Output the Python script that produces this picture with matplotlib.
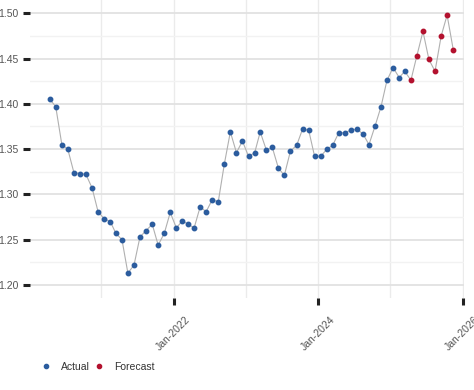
import matplotlib
matplotlib.use("Agg")
import matplotlib.pyplot as plt
import matplotlib.dates as mdates
from matplotlib.ticker import MultipleLocator
import pandas as pd

# Monthly values (mid-month points)
actual_start = "2020-04-01"
actual = [1.405, 1.397, 1.355, 1.350, 1.324, 1.323, 1.322, 1.307, 1.281, 1.273,
          1.270, 1.257, 1.250, 1.213, 1.222, 1.253, 1.260, 1.267, 1.244, 1.257,
          1.280, 1.263, 1.271, 1.267, 1.263, 1.286, 1.281, 1.294, 1.292, 1.334,
          1.369, 1.346, 1.359, 1.342, 1.346, 1.369, 1.349, 1.352, 1.329, 1.321,
          1.348, 1.354, 1.372, 1.371, 1.342, 1.342, 1.350, 1.354, 1.368, 1.368,
          1.371, 1.372, 1.367, 1.355, 1.375, 1.397, 1.426, 1.440, 1.429, 1.436]
forecast = [1.426, 1.453, 1.480, 1.449, 1.436, 1.475, 1.498, 1.460]

n_total = len(actual) + len(forecast)
dates = pd.date_range(actual_start, periods=n_total, freq="MS") + pd.Timedelta(days=14)
dates_actual = dates[:len(actual)]
dates_forecast = dates[len(actual):]

blue = "#2b5c9e"
red = "#b3112e"
label_gray = "#555555"

plt.rcParams["font.family"] = ["Liberation Sans", "DejaVu Sans"]

fig = plt.figure(figsize=(4.74, 3.9), dpi=100)
ax = fig.add_axes([0.0633, 0.236, 0.915, 0.764])

# connecting line through all points
ax.plot(list(dates), actual + forecast, color="#b0b0b0", lw=0.8, zorder=2)
ax.plot(dates_actual, actual, ls="none", marker="o", ms=3.2, color=blue,
        zorder=3, label="Actual")
ax.plot(dates_forecast, forecast, ls="none", marker="o", ms=3.2, color=red,
        zorder=3, label="Forecast")

ax.set_xlim(pd.Timestamp("2020-01-06"), pd.Timestamp("2026-01-07"))
ax.set_ylim(1.1856, 1.5147)

ax.yaxis.set_major_locator(MultipleLocator(0.05))
ax.yaxis.set_minor_locator(MultipleLocator(0.025))
ax.yaxis.set_major_formatter(matplotlib.ticker.FormatStrFormatter("%.2f"))
ax.xaxis.set_major_locator(mdates.YearLocator(2, month=1, day=1))
ax.xaxis.set_minor_locator(mdates.YearLocator(1, month=1, day=1))
ax.xaxis.set_major_formatter(mdates.DateFormatter("%b-%Y"))

ax.grid(which="major", axis="y", color="#e2e2e2", lw=1.3, zorder=0)
ax.grid(which="minor", axis="y", color="#f2f2f2", lw=1.0, zorder=0)
ax.grid(which="both", axis="x", color="#ebebeb", lw=1.0, zorder=0)
ax.set_axisbelow(True)

for s in ax.spines.values():
    s.set_visible(False)

ax.tick_params(axis="both", which="major", direction="out", length=5, width=2.2,
               color="#222222", labelsize=7.5, labelcolor=label_gray)
ax.tick_params(axis="y", which="major", pad=3.5)
ax.tick_params(axis="x", which="major", pad=7)
ax.tick_params(which="minor", length=0)
for lbl in ax.get_xticklabels():
    lbl.set_rotation(45)
    lbl.set_ha("center")

fig.legend(loc="center left", bbox_to_anchor=(0.065, 0.059), ncol=2, frameon=False,
           fontsize=7.5, markerscale=0.95, handlelength=1.2, handletextpad=0.8,
           columnspacing=0.3, labelcolor="#333333")

fig.savefig("out.png", dpi=100)
